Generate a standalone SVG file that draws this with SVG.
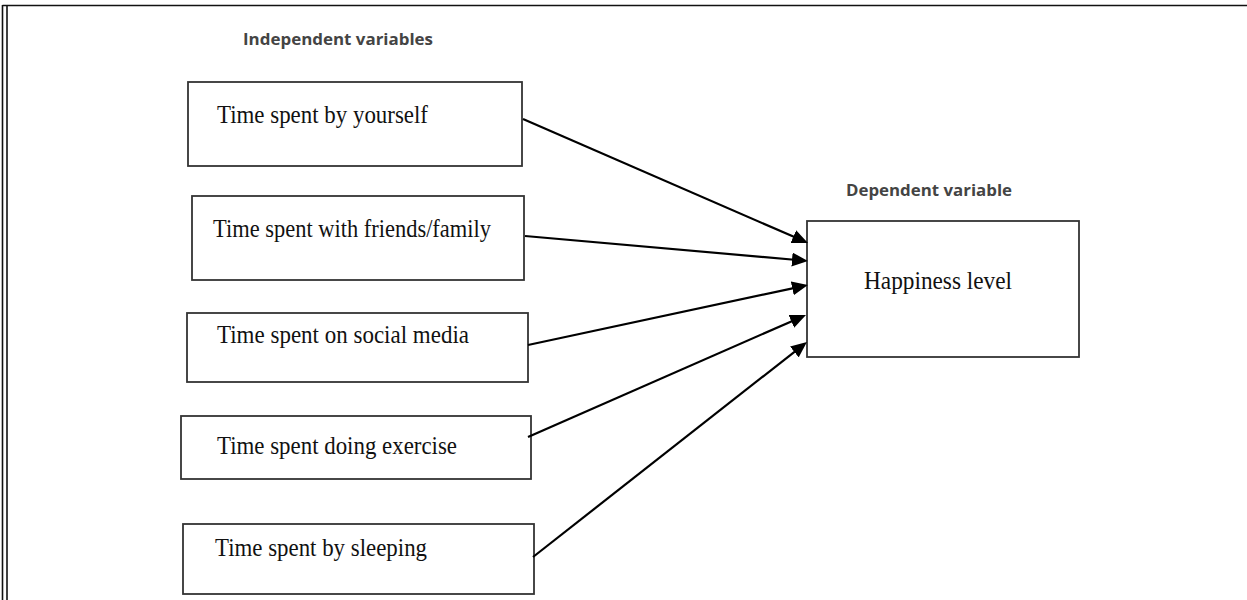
<svg xmlns="http://www.w3.org/2000/svg" width="1247" height="600" viewBox="0 0 1247 600">
  <style>
    .frame { stroke: #111; stroke-width: 1.6; fill: none; }
    .box { fill: #fff; stroke: #333; stroke-width: 1.8; }
    .lbl { font-family: "Liberation Serif", "Times New Roman", serif; font-size: 26px; fill: #111; }
    .head { font-family: "Open Sans", "Noto Sans", sans-serif; font-weight: bold; font-size: 16px; fill: #444; }
    .conn { stroke: #000; stroke-width: 2.2; fill: none; }
  </style>
  <defs>
    <marker id="arrow" markerUnits="userSpaceOnUse" markerWidth="16" markerHeight="14" refX="5" refY="7" orient="auto">
      <path d="M0,0 L16,7 L0,14 Z" fill="#000"/>
    </marker>
  </defs>
  <rect width="1247" height="600" fill="#fff"/>
  <g id="frame">
    <line class="frame" x1="2.5" y1="5.5" x2="1247" y2="5.5" stroke-width="2.4"/>
    <line class="frame" x1="2.5" y1="5" x2="2.5" y2="600"/>
    <line class="frame" x1="7" y1="6" x2="7" y2="600"/>
  </g>
  <text class="head" x="243" y="45" textLength="190" lengthAdjust="spacingAndGlyphs">Independent variables</text>
  <text class="head" x="846" y="196" textLength="166" lengthAdjust="spacingAndGlyphs">Dependent variable</text>
  <g id="node-yourself">
    <rect class="box" x="188" y="82" width="334" height="84"/>
    <text class="lbl" x="217" y="123" textLength="211" lengthAdjust="spacingAndGlyphs">Time spent by yourself</text>
  </g>
  <g id="node-friends">
    <rect class="box" x="192" y="196" width="332" height="84"/>
    <text class="lbl" x="213" y="237" textLength="278" lengthAdjust="spacingAndGlyphs">Time spent with friends/family</text>
  </g>
  <g id="node-social">
    <rect class="box" x="187" y="313" width="341" height="69"/>
    <text class="lbl" x="217" y="343" textLength="252" lengthAdjust="spacingAndGlyphs">Time spent on social media</text>
  </g>
  <g id="node-exercise">
    <rect class="box" x="181" y="416" width="350" height="63"/>
    <text class="lbl" x="217" y="454" textLength="240" lengthAdjust="spacingAndGlyphs">Time spent doing exercise</text>
  </g>
  <g id="node-sleeping">
    <rect class="box" x="183" y="524" width="351" height="70"/>
    <text class="lbl" x="215" y="556" textLength="212" lengthAdjust="spacingAndGlyphs">Time spent by sleeping</text>
  </g>
  <g id="node-happiness">
    <rect class="box" x="807" y="221" width="272" height="136"/>
    <text class="lbl" x="864" y="289" textLength="148" lengthAdjust="spacingAndGlyphs">Happiness level</text>
  </g>
  <g id="connectors">
    <line class="conn" x1="523" y1="119" x2="797.9" y2="238.6" marker-end="url(#arrow)"/>
    <line class="conn" x1="525" y1="236" x2="797" y2="260" marker-end="url(#arrow)"/>
    <line class="conn" x1="528" y1="345" x2="797.2" y2="287.3" marker-end="url(#arrow)"/>
    <line class="conn" x1="528" y1="437" x2="795.9" y2="319.4" marker-end="url(#arrow)"/>
    <line class="conn" x1="533" y1="557" x2="798.3" y2="348.8" marker-end="url(#arrow)"/>
  </g>
</svg>
